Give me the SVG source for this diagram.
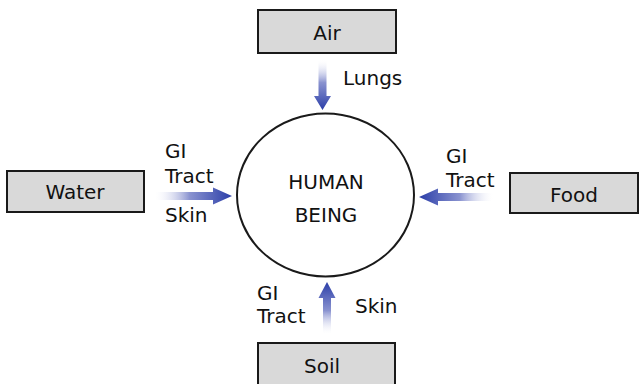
<svg xmlns="http://www.w3.org/2000/svg" width="640" height="384" viewBox="0 0 640 384">
<style>
.box{fill:#d9d9d9;stroke:#1a1a1a;stroke-width:2}
.t{font-family:"DejaVu Sans",Verdana,sans-serif;font-size:20px;fill:#111111}
.c{text-anchor:middle}
.arr{fill:url(#g)}
</style>
<defs>
<linearGradient id="g" x1="0" y1="0" x2="1" y2="0">
<stop offset="0" stop-color="#ffffff" stop-opacity="0.1"/>
<stop offset="0.45" stop-color="#8a93d0"/>
<stop offset="1" stop-color="#2b3ea8"/>
</linearGradient>
</defs>
<rect width="640" height="384" fill="#ffffff"/>
<g id="human">
<ellipse cx="325.5" cy="195" rx="88.5" ry="81.5" fill="#ffffff" stroke="#1a1a1a" stroke-width="2"/>
<text class="t c" x="326" y="189">HUMAN</text>
<text class="t c" x="326" y="222">BEING</text>
</g>
<g id="air">
<rect class="box" x="258" y="10" width="138" height="43"/>
<text class="t c" x="327" y="40">Air</text>
</g>
<g id="water">
<rect class="box" x="7" y="171" width="137" height="41"/>
<text class="t c" x="75" y="199">Water</text>
</g>
<g id="food">
<rect class="box" x="510" y="173" width="128" height="40"/>
<text class="t c" x="574" y="202">Food</text>
</g>
<g id="soil">
<rect class="box" x="258" y="343" width="137" height="44"/>
<text class="t c" x="322" y="373">Soil</text>
</g>
<g id="connectors">
<path class="arr" transform="translate(322.5,60) rotate(90)" d="M0,-4 H36 V-8.5 L50,0 L36,8.5 V4 H0 Z"/>
<path class="arr" transform="translate(155,196)" d="M0,-4 H58 V-8.5 L77,0 L58,8.5 V4 H0 Z"/>
<path class="arr" transform="translate(493,197) rotate(180)" d="M0,-4 H55 V-8.5 L74,0 L55,8.5 V4 H0 Z"/>
<path class="arr" transform="translate(327,334) rotate(-90)" d="M0,-4 H36 V-8.5 L52,0 L36,8.5 V4 H0 Z"/>
<text class="t" x="343" y="85">Lungs</text>
<text class="t" x="165" y="158">GI</text>
<text class="t" x="165" y="183">Tract</text>
<text class="t" x="165" y="222">Skin</text>
<text class="t" x="446" y="163">GI</text>
<text class="t" x="446" y="187">Tract</text>
<text class="t" x="257" y="300">GI</text>
<text class="t" x="257" y="323">Tract</text>
<text class="t" x="355" y="313">Skin</text>
</g>
</svg>
